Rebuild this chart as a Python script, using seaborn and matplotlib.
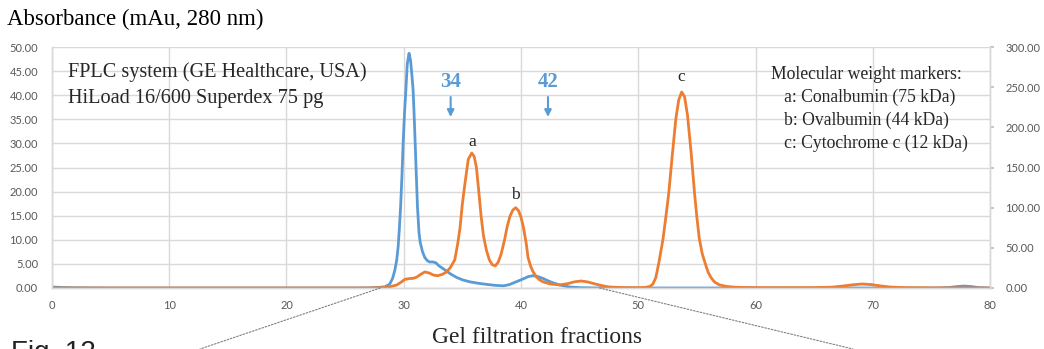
import seaborn as sns
from matplotlib import pyplot as plt
from matplotlib.patches import ConnectionPatch

# sample (blue, left axis, mAu)
blue_x = [0, 1, 2, 5, 10, 20, 26, 27, 27.8, 28.4, 28.8, 29.05, 29.24, 29.4, 29.52, 29.63,
          29.73, 29.85, 29.95, 30.07, 30.18, 30.3, 30.45, 30.58, 30.7, 30.8, 30.9, 30.97,
          31.07, 31.17, 31.3, 31.4, 31.6, 31.8, 32.0, 32.2, 32.5, 32.75, 33.0, 33.3,
          33.6, 34.0, 34.5, 35.0, 35.6, 36.3, 37.05, 37.8, 38.5, 39.0, 39.6, 40.2,
          40.6, 41.0, 41.4, 41.9, 42.3, 42.7, 43.2, 43.6, 44.2, 45, 46, 50, 60, 70,
          75.5, 76.5, 77.2, 77.8, 78.4, 79, 80]
blue_y = [0.2, 0.1, 0.05, 0, 0, 0, 0, 0.03, 0.1, 0.25, 0.8, 2, 3.7, 5.8, 8.5, 12.5,
          16.8, 23.5, 30.3, 36.5, 41, 46.5, 48.7, 47.2, 44, 41, 35, 30.3,
          23.5, 16.8, 11.5, 9.5, 7.5, 6.3, 5.7, 5.4, 5.4, 5.2, 4.6, 4.1,
          3.6, 2.9, 2.2, 1.7, 1.3, 1.0, 0.75, 0.55, 0.45, 0.7, 1.3, 1.9,
          2.35, 2.55, 2.4, 1.95, 1.5, 1.1, 0.7, 0.45, 0.2, 0.08, 0.02, 0, 0, 0,
          0, 0.1, 0.3, 0.4, 0.3, 0.1, 0]

# markers (orange, right axis, mAu)
mark_x = [0, 10, 20, 27, 28.25, 28.8, 29.4, 29.8, 30.1, 30.5, 30.8, 31.1, 31.45, 31.8,
          32.2, 32.55, 32.9, 33.3, 33.65, 34.0, 34.35, 34.6, 34.8, 35.0, 35.2, 35.5,
          35.8, 36.0, 36.2, 36.4, 36.6, 36.8, 37.05, 37.3, 37.55, 37.8, 38.05, 38.3,
          38.6, 38.8, 39.05, 39.3, 39.55, 39.8, 40.0, 40.2, 40.45, 40.6, 40.8, 41.0,
          41.3, 41.6, 41.9, 42.5, 43.3, 44.0, 44.6, 45.15, 45.7, 46.2, 46.7, 47.2,
          47.6, 48.5, 50.0, 50.6, 51.0, 51.25, 51.5, 51.75, 52.1, 52.35, 52.6, 52.9,
          53.2, 53.45, 53.7, 53.95, 54.2, 54.5, 54.8, 55.0, 55.2, 55.45, 55.7, 55.95,
          56.2, 56.5, 56.9, 57.5, 58.2, 59, 62, 65, 66.5, 67.5, 68.3, 69.1, 69.9,
          70.7, 71.5, 72.5, 75, 80]
mark_y = [0, 0, 0, 0, 0.5, 1.5, 3.7, 7.5, 10.8, 11.8, 12, 13.5, 17, 20,
          18.5, 16, 15.3, 17, 20, 26, 35, 55, 75, 105, 128, 160,
          168, 164, 150, 120, 89, 65, 47, 35, 29, 27.5, 32, 42,
          60, 75, 89, 97, 100, 96, 88, 76, 55, 38, 28, 21,
          14, 10, 7.5, 5, 3.8, 5.5, 7.8, 8.7, 7.5, 5.5, 3.7, 2,
          1.2, 0.6, 0.4, 0.7, 2, 5, 13, 31, 60, 88, 118, 165,
          210, 234, 244, 238, 215, 170, 118, 88, 62, 43, 31, 20,
          13, 7.5, 4, 2, 1, 0.6, 0.4, 0.5, 1, 2.5, 4, 5, 4.2,
          2.5, 1.2, 0.5, 0.2, 0]

left_ticks = [0, 5, 10, 15, 20, 25, 30, 35, 40, 45, 50]
right_ticks = [0, 50, 100, 150, 200, 250, 300]
x_ticks = [0, 10, 20, 30, 40, 50, 60, 70, 80]

marker_lines = ['Molecular weight markers:',
                '   a: Conalbumin (75 kDa)',
                '   b: Ovalbumin (44 kDa)',
                '   c: Cytochrome c (12 kDa)']

BLUE = '#5B9BD5'
ORANGE = '#ED7D31'
GRID = '#D9D9D9'
TICK = '#595959'
SERIF = 'Liberation Serif'

sns.set_theme(style="white")
plt.rcParams['font.family'] = ['Lato', 'DejaVu Sans']

fig = plt.figure(figsize=(10.44, 3.49), dpi=100)
ax = fig.add_axes([0.0498, 0.1748, 0.8985, 0.6905])
ax2 = ax.twinx()

sns.lineplot(x=blue_x, y=blue_y, ax=ax, color=BLUE, linewidth=2, sort=False,
             solid_joinstyle='round')
sns.lineplot(x=mark_x, y=mark_y, ax=ax2, color=ORANGE, linewidth=2, sort=False,
             solid_joinstyle='round')

ax.set_xlim(0, 80)
ax.set_ylim(0, 50)
ax2.set_ylim(0, 300)
ax.set_xticks(x_ticks)
ax.set_xticklabels([str(t) for t in x_ticks])
ax.set_yticks(left_ticks)
ax.set_yticklabels(['%.2f' % t for t in left_ticks])
ax2.set_yticks(right_ticks)
ax2.set_yticklabels(['%.2f' % t for t in right_ticks])

ax.grid(True, color=GRID, linewidth=1)
ax2.grid(False)
ax.set_axisbelow(True)
ax.tick_params(axis='y', length=0, labelsize=8, labelcolor=TICK, pad=10)
ax.tick_params(axis='x', length=0, labelsize=8, labelcolor=TICK, pad=9)
ax2.tick_params(axis='y', length=3, color='#BFBFBF', direction='out',
                labelsize=8, labelcolor=TICK, pad=8)

for a in (ax, ax2):
    a.spines['top'].set_visible(False)
    for s in ('left', 'right', 'bottom'):
        a.spines[s].set_color(GRID)
        a.spines[s].set_linewidth(1)

# texts
fig.text(0.0067, 0.943, 'Absorbance (mAu, 280 nm)', family=SERIF, fontsize=16.5,
         va='center', ha='left', color='black')
ax.text(1.4, 43.8, 'FPLC system (GE Healthcare, USA)', family=SERIF, fontsize=14.6,
        va='baseline')
ax.text(1.4, 38.4, 'HiLoad 16/600 Superdex 75 pg', family=SERIF, fontsize=14.6,
        va='baseline')
for i, line in enumerate(marker_lines):
    ax.text(61.3, 43.4 - i * 4.8, line, family=SERIF, fontsize=12.7, va='baseline')

ax.text(35.8, 30.3, 'a', family=SERIF, fontsize=12.5, ha='center', va='center')
ax.text(39.55, 19.3, 'b', family=SERIF, fontsize=12.5, ha='center', va='center')
ax.text(53.7, 43.8, 'c', family=SERIF, fontsize=12.5, ha='center', va='center')

for fx in (34, 42.3):
    ax.text(fx, 42.7, str(int(fx)), family=SERIF, fontsize=15, fontweight='bold',
            color=BLUE, ha='center', va='center')
    ax.annotate('', xy=(fx, 34.9), xytext=(fx, 40.2),
                arrowprops=dict(arrowstyle='-|>', color=BLUE, lw=1.5,
                                mutation_scale=10))

fig.text(0.514, 0.018, 'Gel filtration fractions', family=SERIF, fontsize=16.9,
         ha='center', va='baseline')
fig.text(0.011, 0.026, 'Fig. 12', family=['Liberation Sans'], fontsize=20,
         ha='left', va='top', color='#222222')

# zoom lines to the lower panel
for x0, fxy in ((28, (0.1916, 0.0)), (46.7, (0.817, 0.0))):
    con = ConnectionPatch(xyA=(x0, 0), coordsA=ax.transData, xyB=fxy,
                          coordsB=fig.transFigure, linestyle=(0, (1.5, 1.5)),
                          color='#808080', linewidth=0.8)
    fig.add_artist(con)

plt.savefig('out.png', dpi=100)
plt.close()
